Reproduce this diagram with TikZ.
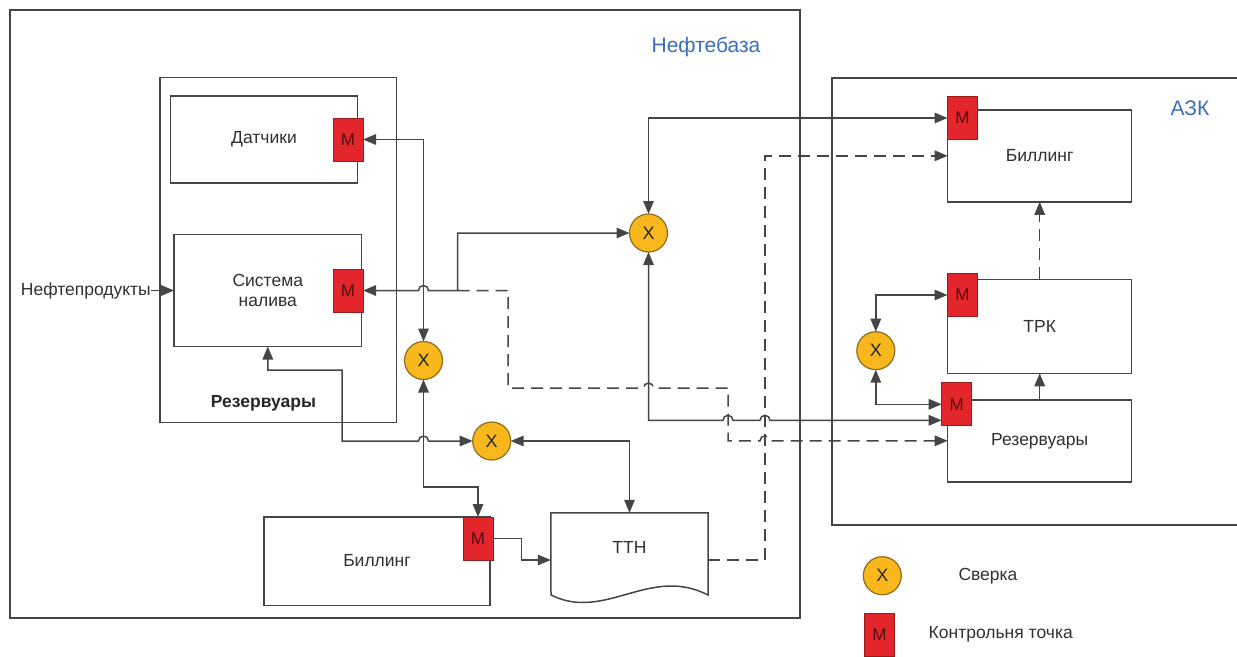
\documentclass[tikz,border=0pt]{standalone}
\usepackage{fontspec}
\setmainfont{Liberation Sans}
\usepackage{tikz}
\usetikzlibrary{arrows.meta, positioning}
\definecolor{linegray}{HTML}{454545}
\definecolor{ctrlred}{HTML}{E3262B}
\definecolor{ctrledge}{HTML}{9B1B1B}
\definecolor{checkyellow}{HTML}{F7B71D}
\definecolor{checkedge}{HTML}{8C6D1F}
\definecolor{titleblue}{HTML}{3A6FB7}
\definecolor{textgray}{HTML}{303030}

\begin{document}
\begin{tikzpicture}[
  x=1pt, y=-1pt,
  >={Triangle[length=13pt,width=10.5pt]},
  txt/.style={font=\fontsize{17.5}{20.5}\selectfont, text=textgray},
  bold/.style={font=\fontsize{17.5}{20.5}\selectfont\bfseries, text=black!85},
  frame/.style={draw=linegray, line width=1.5pt, inner sep=0pt, outer sep=0pt},
  unit/.style={frame, txt, align=center},
  ctrl/.style={draw=ctrledge, fill=ctrlred, line width=1pt, minimum width=30pt,
    minimum height=43pt, inner sep=0pt, outer sep=0pt,
    font=\fontsize{17}{19}\selectfont, text=ctrledge!55!black},
  check/.style={circle, draw=checkedge, fill=checkyellow, line width=1.2pt,
    minimum size=38pt, inner sep=0pt, outer sep=0pt,
    font=\fontsize{18}{19}\selectfont, text=black!85},
  title/.style={font=\fontsize{21}{25}\selectfont, text=titleblue},
  link/.style={draw=linegray, line width=1.5pt},
  dlink/.style={link, dash pattern=on 12pt off 7pt}
]
\useasboundingbox (0,0) rectangle (1237,656);
\node[frame, minimum width=790pt, minimum height=608pt] (neft) at (405,314) {};
\node[frame, minimum width=413pt, minimum height=447pt] (azs) at (1038.5,301.5) {};
\node[title] (neftname) at (706,47) {Нефтебаза};
\node[title] (azsname) at (1190,108) {АЗК};
\node[frame, minimum width=236.5pt, minimum height=345pt] (rez) at (278.3,250) {};
\node[bold] (rezname) at (263.5,403.5) {Резервуары};
\node[unit, minimum width=187pt, minimum height=87pt] (sens) at (264,139.5) {Датчики};
\node[unit, minimum width=187.5pt, minimum height=112pt] (fill) at (267.8,290.5) {Система\\налива};
\node[unit, minimum width=226pt, minimum height=88.5pt] (bill) at (377,561) {Биллинг};
\node[txt, minimum width=157pt, minimum height=94pt, inner sep=0pt,
  label={[txt, yshift=13pt]center:ТТН}] (ttn) at (629.5,560) {};
\draw[link] (ttn.north west) -- (ttn.north east) -- (708,595)
  .. controls (650,565) and (605,622) .. (551,595) -- cycle;
\node[txt, anchor=east, inner sep=0pt] (oil) at (151,290.5) {Нефтепродукты};
\node[unit, minimum width=184pt, minimum height=92pt] (abill) at (1039.7,155.8) {Биллинг};
\node[unit, minimum width=184pt, minimum height=94pt] (trk) at (1039.7,326.3) {ТРК};
\node[unit, minimum width=184pt, minimum height=82pt] (arez) at (1039.7,440.8) {Резервуары};
\node[ctrl] (msens) at (348,139.5) {М};
\node[ctrl] (mfill) at (348,290.5) {М};
\node[ctrl] (mbill) at (478,538.5) {М};
\node[ctrl] (mabill) at (962.5,118) {М};
\node[ctrl] (mtrk) at (962.5,295) {М};
\node[ctrl] (marez) at (956.7,404.3) {М};
\node[check] (c1) at (423.5,360.5) {X};
\node[check] (c2) at (648.5,233) {X};
\node[check] (c3) at (491.7,441) {X};
\node[check] (c4) at (875.8,350.7) {X};
\coordinate (split) at (457.5,290.5);
\draw[link, <->] (msens.east) -| (c1.north);
\draw[link, <->] (mfill.east) -- (418.5,290.5) arc[start angle=180, end angle=0, radius=5pt]
  -- (split) |- (c2.west);
\draw[dlink, ->] (split) -| (508,388) -- (643.5,388) arc[start angle=180, end angle=0, radius=5pt]
  -- (728,388) |- (760,440.8) arc[start angle=180, end angle=0, radius=5pt] -- (arez.west);
\draw[link, <->] (c2.north) |- (mabill.west);
\draw[link, <->] (c2.south) -- (648.5,420.3) -- (723,420.3) arc[start angle=180, end angle=0, radius=5pt]
  -- (760,420.3) arc[start angle=180, end angle=0, radius=5pt] -- ([yshift=-16pt]marez.west);
\draw[link, <->] (c1.south) -- (423.5,487) -| (mbill.north);
\draw[link, <->] (fill.south) -- (267.8,370) -| (342,441) -- (418.5,441)
  arc[start angle=180, end angle=0, radius=5pt] -- (c3.west);
\draw[link, <->] (c3.east) -| (ttn.north);
\draw[link, ->] (mbill.east) -- (521.5,538.5) |- (ttn.west);
\draw[dlink, ->] (ttn.east) -- (765,560) |- (abill.west);
\draw[link, <->] (c4.north) |- (mtrk.west);
\draw[link, <->] (c4.south) |- (marez.west);
\draw[link, ->] (arez.north) -- (trk.south);
\draw[dlink, ->] (trk.north) -- (abill.south);
\draw[link, ->] (oil.east) -- (fill.west);
\node[check] (cleg) at (882.3,575.7) {X};
\node[txt, right=57pt of cleg, inner sep=0pt] (lcheck) {Сверка};
\node[ctrl] (mleg) at (879.5,634.5) {М};
\node[txt, right=34pt of mleg, inner sep=0pt] (lctrl) {Контрольня точка};
\end{tikzpicture}
\end{document}
